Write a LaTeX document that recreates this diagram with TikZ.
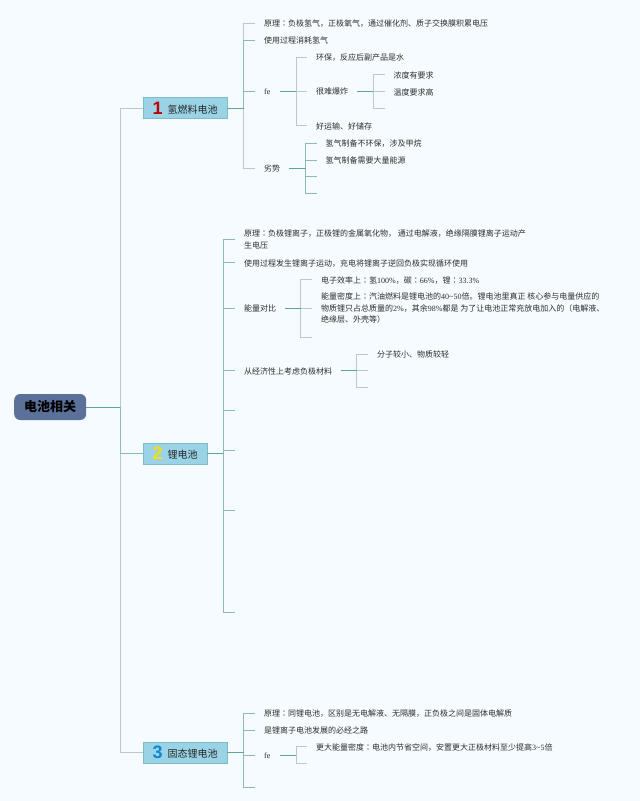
\documentclass[tikz,border=0pt]{standalone}
\usepackage{fontspec}
\setmainfont{Noto Sans CJK SC}
\newfontfamily\colonfont{Noto Sans CJK JP}
\newfontfamily\latinfont{Liberation Serif}
\newfontfamily\numfont{Liberation Sans}
\usetikzlibrary{positioning}
\definecolor{paper}{HTML}{F5FBFF}
\definecolor{rootfill}{HTML}{5B7199}
\definecolor{hubfill}{HTML}{9AD3E6}
\definecolor{hubline}{HTML}{7FBCC4}
\definecolor{inklink}{HTML}{5FA596}
\definecolor{midlink}{HTML}{8CBBAF}
\definecolor{farlink}{HTML}{B7CCC8}
\definecolor{textgray}{HTML}{2E2E2E}
\tikzset{
  topic/.style={anchor=west,inner xsep=9pt,inner ysep=0pt,align=left,text=textgray,font=\fontsize{8}{11.5}\selectfont,execute at begin node={\rule[-1pt]{0pt}{9pt}}},
  hub/.style={anchor=west,draw=hubline,fill=hubfill,inner sep=0pt,minimum height=21pt,text=black!85,font=\fontsize{10}{12}\selectfont},
  rootbox/.style={anchor=west,fill=rootfill,rounded corners=6pt,inner sep=0pt,minimum width=72pt,minimum height=26pt,font=\fontsize{13}{15}\bfseries\selectfont},
  main link/.style={line width=0.9pt,inklink},
  near link/.style={line width=0.9pt,midlink},
  far link/.style={line width=0.9pt,farlink}
}
\newcommand{\lat}[1]{{\latinfont #1}}
\newcommand{\cln}{{\colonfont ：}}
\newcommand{\hubnum}[2]{\raisebox{-1pt}{\numfont\bfseries\fontsize{18}{18}\selectfont\color{#1}#2}\hspace{5pt}}
\begin{document}
\begin{tikzpicture}[x=1pt,y=-1pt]
  \useasboundingbox (0,0) rectangle (640,801);
  \fill[paper] (0,0) rectangle (640,801);

  % root and the three branches
  \node[rootbox] (root) at (14,407) {电池相关};
  \node[hub,minimum width=84pt] (hydrogen) at (143,108) {\hubnum{red!75!black}{1}氢燃料电池};
  \node[hub,minimum width=64pt] (lithium) at (143,453.5) {\hubnum{yellow!80!orange}{2}锂电池};
  \node[hub,minimum width=84pt] (solid) at (143,752.5) {\hubnum{cyan!70!blue}{3}固态锂电池};
  \coordinate (trunk) at (120,407);

  % first branch
  \coordinate (hspine) at (243.5,108);
  \node[topic] (hprinciple) at (255,23) {原理\cln{}负极氢气，正极氧气，通过催化剂、质子交换膜积累电压};
  \node[topic] (huse) at (255,40) {使用过程消耗氢气};
  \node[topic] (hfe) at (255,91) {\lat{fe}};
  \node[topic] (hbad) at (255,168) {劣势};
  \coordinate (hfespine) at (296,91);
  \node[topic] (hclean) at (307,57) {环保，反应后副产品是水};
  \node[topic] (hsafe) at (307,91) {很难爆炸};
  \node[topic] (hstore) at (307,125.5) {好运输、好储存};
  \coordinate (hsafespine) at (373,91);
  \node[topic] (hdense) at (384.5,74.5) {浓度有要求};
  \node[topic] (htemp) at (384.5,91.5) {温度要求高};
  \coordinate (hsafeend) at (385,108);
  \coordinate (hbadspine) at (305.5,168);
  \node[topic] (hmake) at (316.5,143) {氢气制备不环保，涉及甲烷};
  \node[topic] (henergy) at (316.5,160) {氢气制备需要大量能源};
  \coordinate (hbadc) at (317,176.5);
  \coordinate (hbadd) at (317,193.5);

  % second branch
  \coordinate (lspine) at (223,453.5);
  \node[topic] (lprinciple) at (235,239.5) {原理\cln{}负极锂离子，正极锂的金属氧化物， 通过电解液，绝缘隔膜锂离子运动产\\生电压};
  \node[topic] (luse) at (235,262.5) {使用过程发生锂离子运动，充电将锂离子逆回负极实现循环使用};
  \node[topic] (lcompare) at (235,308) {能量对比};
  \node[topic] (lcost) at (235,370.5) {从经济性上考虑负极材料};
  \coordinate (lend) at (235,410);
  \coordinate (lendb) at (235,450);
  \coordinate (lendc) at (235,510);
  \coordinate (lendd) at (235,612.5);
  \coordinate (lcompspine) at (300.5,308);
  \node[topic] (lrate) at (312,279.5) {电子效率上\cln{}氢\lat{100\%}，碳\cln{}\lat{66\%}，锂\cln{}\lat{33.3\%}};
  \node[topic] (ldensity) at (312,308.5) {能量密度上\cln{}汽油燃料是锂电池的\lat{40\textasciitilde50}倍。锂电池里真正 核心参与电量供应的\\物质锂只占总质量的\lat{2\%}，其余\lat{98\%}都是 为了让电池正常充放电加入的（电解液、\\绝缘层、外壳等）};
  \coordinate (lcompend) at (312,337);
  \coordinate (lcostspine) at (356.5,370.5);
  \node[topic] (lsmall) at (368,354) {分子较小、物质较轻};
  \coordinate (lcostb) at (368,370.5);
  \coordinate (lcostc) at (368,387.5);

  % third branch
  \coordinate (sspine) at (243.5,752.5);
  \node[topic] (sprinciple) at (255,713) {原理\cln{}同锂电池，区别是无电解液、无隔膜，正负极之间是固体电解质};
  \node[topic] (sroad) at (255,730) {是锂离子电池发展的必经之路};
  \node[topic] (sfe) at (255,755) {\lat{fe}};
  \coordinate (send) at (255,787);
  \coordinate (sfespine) at (296,755);
  \node[topic] (smore) at (307,746.5) {更大能量密度\cln{}电池内节省空间，安置更大正极材料至少提高\lat{3\textasciitilde5}倍};
  \coordinate (sfeend) at (307,763.5);

  % connectors, pale ones first
  \foreach \kid in {hydrogen,solid}
    \draw[far link] (trunk) |- (\kid.west);
  \draw[near link] (trunk) |- (lithium.west);
  \foreach \kid in {hprinciple,hbad}
    \draw[far link] (hspine) |- (\kid.west);
  \foreach \kid in {huse,hfe}
    \draw[near link] (hspine) |- (\kid.west);
  \foreach \kid in {hclean,hstore}
    \draw[far link] (hfespine) |- (\kid.west);
  \draw[far link] (hfespine) -- (hsafe.west);
  \foreach \kid in {hdense,htemp}
    \draw[far link] (hsafespine) |- (\kid.west);
  \draw[far link] (hsafespine) |- (hsafeend);
  \foreach \kid in {hmake,henergy}
    \draw[near link] (hbadspine) |- (\kid.west);
  \foreach \kid in {hbadc,hbadd}
    \draw[near link] (hbadspine) |- (\kid);
  \foreach \kid in {lprinciple,luse,lcompare,lcost}
    \draw[near link] (lspine) |- (\kid.west);
  \foreach \kid in {lend,lendb,lendc,lendd}
    \draw[near link] (lspine) |- (\kid);
  \foreach \kid in {lrate,ldensity}
    \draw[far link] (lcompspine) |- (\kid.west);
  \draw[far link] (lcompspine) |- (lcompend);
  \draw[far link] (lcostspine) |- (lsmall.west);
  \draw[far link] (lcostspine) |- (lcostb);
  \draw[far link] (lcostspine) |- (lcostc);
  \foreach \kid in {sprinciple,sroad}
    \draw[near link] (sspine) |- (\kid.west);
  \draw[near link] (sspine) |- (send);
  \draw[near link] (sspine) |- (sfe.west);
  \draw[far link] (sfespine) |- (smore.west);
  \draw[far link] (sfespine) |- (sfeend);

  % parent lines on top
  \draw[main link] (root.east) -- (trunk);
  \draw[main link] (hydrogen.east) -- (hspine);
  \draw[main link] (lithium.east) -- (lspine);
  \draw[main link] (solid.east) -- (sspine);
  \draw[main link] (hfe.east) -- (hfespine);
  \draw[main link] (hsafe.east) -- (hsafespine);
  \draw[main link] (hbad.east) -- (hbadspine);
  \draw[main link] (lcompare.east) -- (lcompspine);
  \draw[main link] (lcost.east) -- (lcostspine);
  \draw[main link] (sfe.east) -- (sfespine);
\end{tikzpicture}
\end{document}
